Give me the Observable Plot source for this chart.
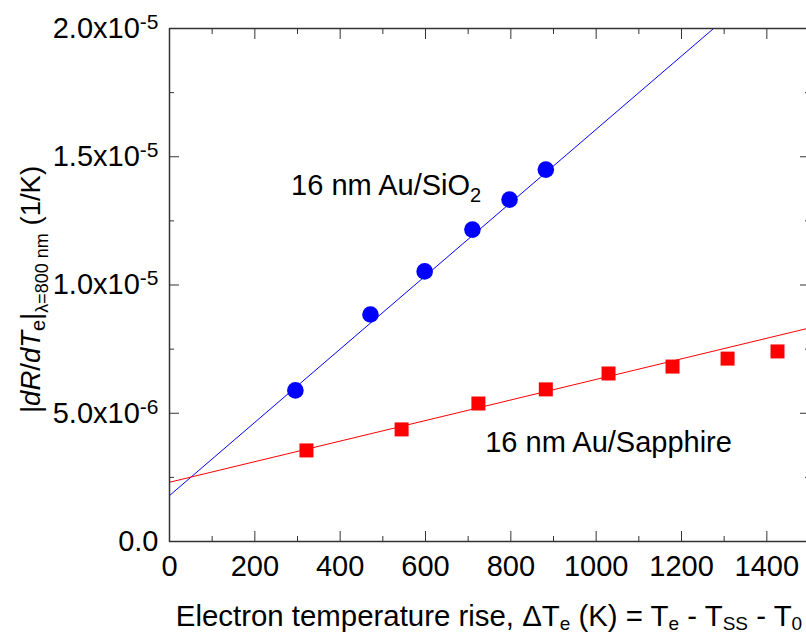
<!DOCTYPE html>
<html><head><meta charset="utf-8">
<script src="https://cdn.jsdelivr.net/npm/d3@7"></script>
<script src="https://cdn.jsdelivr.net/npm/@observablehq/plot@0.6"></script>
<style>
body{margin:0;background:#fff;}
#chart svg{font-family:"Liberation Sans",Arial,sans-serif;overflow:hidden;}
</style>
</head><body><div id="chart"></div>
<script>
// --- data ---
const sio2X = [295, 471, 598, 710, 797, 882];
const sio2Y = [5.89e-6, 8.85e-6, 10.53e-6, 12.16e-6, 13.33e-6, 14.50e-6];
const sappX = [321, 544, 724, 882, 1029, 1179, 1308, 1425];
const sappY = [3.55e-6, 4.37e-6, 5.38e-6, 5.93e-6, 6.55e-6, 6.82e-6, 7.13e-6, 7.41e-6];
const fitNames = ["SiO2", "Sapphire"];
const fitIntercept = [1.79e-6, 2.31e-6];
const fitSlope = [1.428e-8, 4.01e-9];
const fitColors = ["#0000ff", "#ff0000"];
const xTicks = [0, 200, 400, 600, 800, 1000, 1200, 1400];
const xMinor = [100, 300, 500, 700, 900, 1100, 1300, 1500];
const yTicks = [0, 5e-6, 1e-5, 1.5e-5, 2e-5];
const yTickLabels = ["0.0", "5.0x10^-6", "1.0x10^-5", "1.5x10^-5", "2.0x10^-5"];
const yMinor = [2.5e-6, 7.5e-6, 1.25e-5, 1.75e-5];
const annText = ["16 nm Au/SiO_2", "16 nm Au/Sapphire"];
const annX = [285, 740];
const annY = [13.88e-6, 3.86e-6];
const xDomain = [0, 1500];
const yDomain = [0, 2e-5];

const sio2 = sio2X.map((x, i) => ({x, y: sio2Y[i]}));
const sapp = sappX.map((x, i) => ({x, y: sappY[i]}));
const fits = fitNames.flatMap((name, i) => xDomain.map(x => ({name, x, y: fitIntercept[i] + fitSlope[i] * x})));
const ann = annText.map((t, i) => ({t, x: annX[i], y: annY[i]}));

const axisColor = "#333";
const plot = Plot.plot({
  width: 806,
  height: 633,
  marginTop: 28,
  marginBottom: 92,
  marginLeft: 169,
  marginRight: -3,
  style: {fontFamily: "'Liberation Sans', Arial, sans-serif", background: "#fff", color: "#000"},
  x: {domain: xDomain},
  y: {domain: yDomain},
  marks: [
    Plot.line(fits, {x: "x", y: "y", z: "name", stroke: d => d.name, strokeWidth: 1, clip: true}),
    Plot.dot(sio2, {x: "x", y: "y", r: 8.3, fill: "#0000ff", symbol: "circle"}),
    Plot.dot(sapp, {x: "x", y: "y", r: 7.9, fill: "#ff0000", symbol: "square"}),
    Plot.text(ann, {x: "x", y: "y", text: "t", textAnchor: "start", lineAnchor: "middle", fontSize: 29, fill: "#000"}),
    Plot.axisX(xTicks, {anchor: "bottom", tickSize: -10, tickPadding: 24, fontSize: 29, label: null, stroke: axisColor, fill: "#000",
      tickFormat: d => String(d)}),
    Plot.axisX(xMinor, {anchor: "bottom", tickSize: -5, tickFormat: () => "", label: null, stroke: axisColor}),
    Plot.axisX(xTicks, {anchor: "top", tickSize: -10, tickFormat: () => "", label: null, stroke: axisColor}),
    Plot.axisX(xMinor, {anchor: "top", tickSize: -5, tickFormat: () => "", label: null, stroke: axisColor}),
    Plot.axisY(yTicks, {anchor: "left", tickSize: -10, tickPadding: 21, fontSize: 29, label: null, stroke: axisColor, fill: "#000",
      tickFormat: d => yTickLabels[yTicks.indexOf(d)]}),
    Plot.axisY(yMinor, {anchor: "left", tickSize: -5, tickFormat: () => "", label: null, stroke: axisColor}),
    Plot.axisY(yTicks, {anchor: "right", tickSize: -10, tickFormat: () => "", label: null, stroke: axisColor}),
    Plot.axisY(yMinor, {anchor: "right", tickSize: -5, tickFormat: () => "", label: null, stroke: axisColor}),
    Plot.frame({stroke: axisColor, strokeWidth: 1.5})
  ],
  color: {domain: fitNames, range: fitColors}
});
document.getElementById("chart").appendChild(plot);

const svg = d3.select(plot);

// rich text helper: parts [{t, it, size, shift}]
function rich(textSel, parts) {
  textSel.text(null);
  let cur = 0;
  for (const p of parts) {
    const ts = textSel.append("tspan").text(p.t);
    if (p.it) ts.attr("font-style", "italic");
    if (p.size) ts.style("font-size", p.size + "px");
    const target = p.shift || 0;
    if (target !== cur) ts.attr("dy", target - cur);
    cur = target;
  }
}

// y tick labels with superscripts
svg.selectAll('g[aria-label="y-axis tick label"] text').each(function() {
  const s = d3.select(this);
  const txt = s.text();
  if (txt.includes("^")) {
    const [a, b] = txt.split("^");
    rich(s, [{t: a}, {t: b, size: 21, shift: -9}]);
  }
});

// annotation subscripts
svg.selectAll('g[aria-label="text"] text').each(function() {
  const s = d3.select(this);
  const txt = s.text();
  if (txt.includes("_")) {
    const [a, b] = txt.split("_");
    rich(s, [{t: a}, {t: b, size: 20, shift: 7}]);
  }
});

// axis titles
const xr = plot.scale("x").range;
const yr = plot.scale("y").range;
const xt = svg.append("text")
  .attr("x", (xr[0] + xr[1]) / 2).attr("y", 626)
  .attr("text-anchor", "middle").style("font-size", "29.4px").attr("fill", "#000");
rich(xt, [
  {t: "Electron temperature rise, \u0394T"}, {t: "e", size: 19, shift: 4},
  {t: " (K) = T"}, {t: "e", size: 19, shift: 4},
  {t: " - T"}, {t: "SS", size: 19, shift: 4},
  {t: " - T"}, {t: "0", size: 19, shift: 4}
]);
const yt = svg.append("text")
  .attr("transform", `translate(40,${(yr[0] + yr[1]) / 2 + 5}) rotate(-90)`)
  .attr("text-anchor", "middle").style("font-size", "27.5px").attr("fill", "#000");
rich(yt, [
  {t: "|"}, {t: "dR", it: true}, {t: "/"}, {t: "dT", it: true},
  {t: "e", size: 20, shift: 5}, {t: "|"},
  {t: "\u03bb=800 nm", size: 18, shift: 8}, {t: " (1/K)"}
]);
</script>
</body></html>
